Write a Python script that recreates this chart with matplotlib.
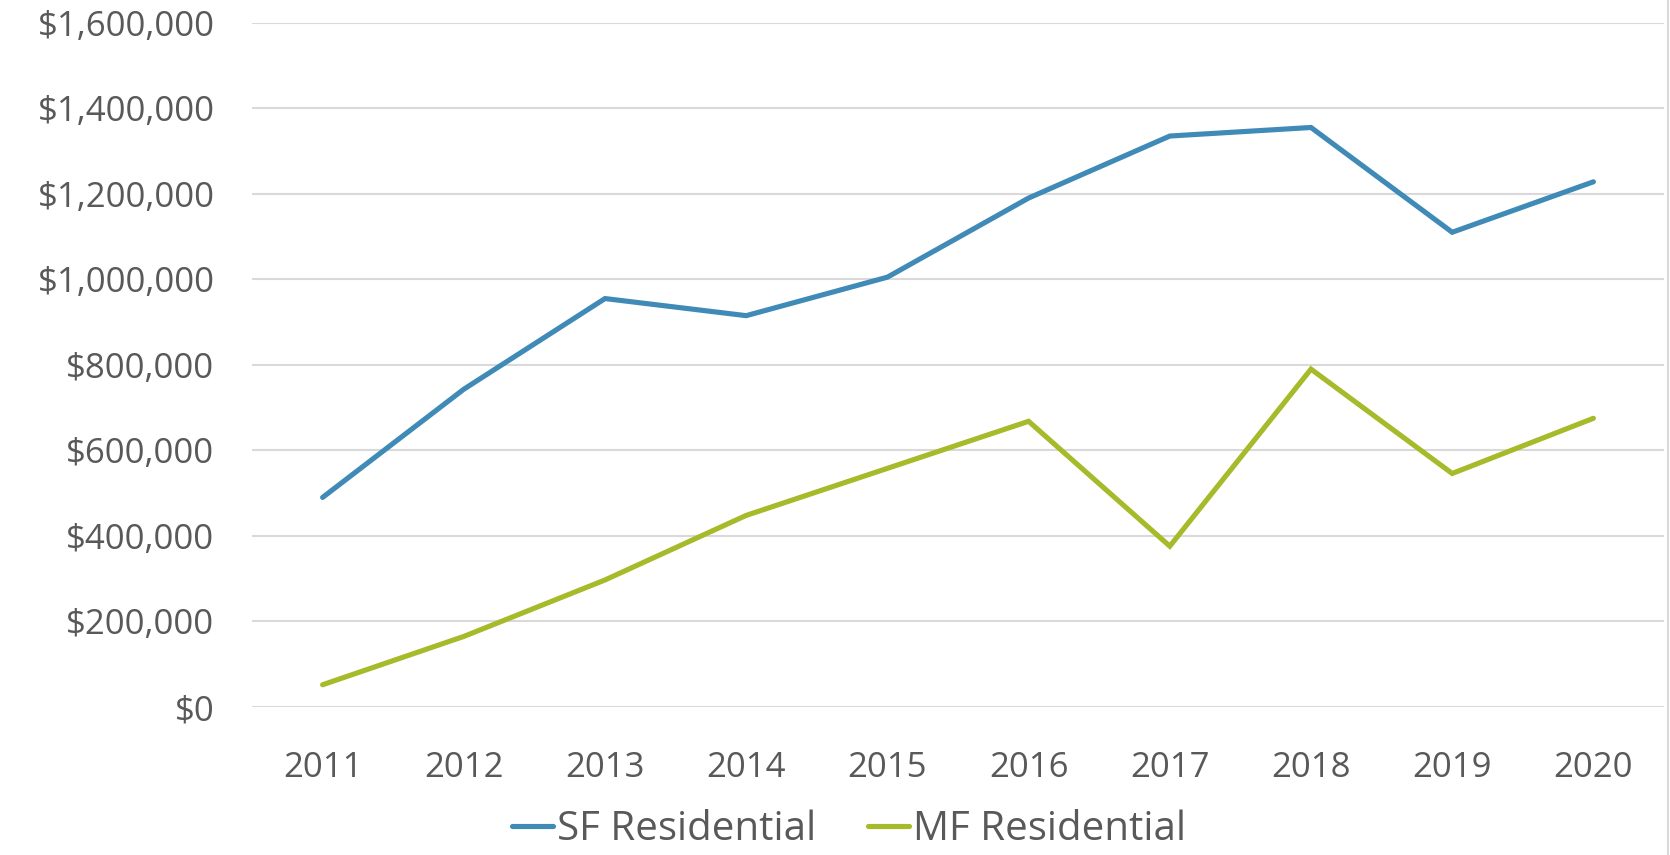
import matplotlib
matplotlib.use("Agg")
import matplotlib.pyplot as plt
from matplotlib.ticker import FuncFormatter
from matplotlib.lines import Line2D

years = ["2011", "2012", "2013", "2014", "2015", "2016", "2017", "2018", "2019", "2020"]
sf_residential = [490000, 743000, 955000, 915000, 1005000, 1190000, 1335000, 1355000, 1110000, 1228000]
mf_residential = [52000, 165000, 297000, 448000, 558000, 668000, 376000, 790000, 546000, 675000]
y_ticks = [0, 200000, 400000, 600000, 800000, 1000000, 1200000, 1400000, 1600000]

plt.rcParams['font.family'] = ['Open Sans', 'DejaVu Sans']
text_color = "#595959"
sf_color = "#3F8AB7"
mf_color = "#A6BA2A"
grid_color = "#D9D9D9"

W, H = 1670, 855
fig = plt.figure(figsize=(W / 100, H / 100), dpi=100)
ax = fig.add_axes([252 / W, 1 - 707 / H, (1664 - 252) / W, (707 - 22.7) / H])

x = list(range(len(years)))
ax.plot(x, sf_residential, color=sf_color, lw=3.7, solid_capstyle='round', solid_joinstyle='miter', label="SF Residential")
ax.plot(x, mf_residential, color=mf_color, lw=3.7, solid_capstyle='round', solid_joinstyle='miter', label="MF Residential")

ax.set_xlim(-0.5, len(years) - 0.5)
ax.set_ylim(0, 1600000)
ax.set_yticks(y_ticks)
ax.yaxis.set_major_formatter(FuncFormatter(lambda v, p: "${:,.0f}".format(v)))
ax.set_xticks(x)
ax.set_xticklabels(years)

for s in ax.spines.values():
    s.set_visible(False)
ax.grid(axis='y', color=grid_color, lw=1.5)
ax.set_axisbelow(True)
ax.tick_params(axis='both', length=0, colors=text_color, labelsize=25)
ax.tick_params(axis='y', pad=27)
ax.tick_params(axis='x', pad=32)

# right border line of the chart area
fig.add_artist(Line2D([1668 / W, 1668 / W], [0, 1], color=grid_color, lw=1.5, transform=fig.transFigure))

handles, labels = ax.get_legend_handles_labels()
leg = fig.legend(handles, labels, loc='center', bbox_to_anchor=(849 / W, 1 - 830 / H), ncol=2, frameon=False,
                 handlelength=1.0, handletextpad=0.1, columnspacing=1.3, borderpad=0.2,
                 labelcolor=text_color, prop={'family': ['Open Sans', 'DejaVu Sans'], 'size': 29})

fig.savefig("out.png", dpi=100)
